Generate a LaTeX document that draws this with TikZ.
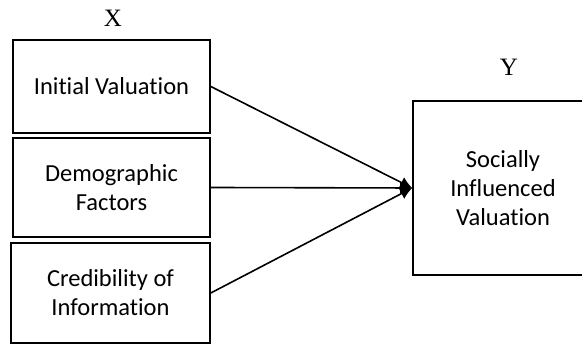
\documentclass[tikz,border=0pt]{standalone}
\usepackage{fontspec}
\setmainfont[Ligatures={NoCommon}]{Carlito}
\newfontfamily\labelfont{Liberation Serif}
\usetikzlibrary{arrows.meta}

\begin{document}
\begin{tikzpicture}[x=1pt, y=1pt,
    varbox/.style={draw, line width=1.6pt, align=center, inner sep=0pt,
      font=\fontsize{24.5}{29}\selectfont},
    varlabel/.style={font=\labelfont\fontsize{25}{28}\selectfont},
    link/.style={line width=1.6pt, -{Latex[length=12pt, width=12pt]}}]
  % Frame of the picture
  \useasboundingbox (0,0) rectangle (582,344);

  % Independent variables (X)
  \node[varlabel] (xlab) at (113,326) {X};
  \node[varbox, minimum width=197pt, minimum height=93pt] (init) at (111.5,257.5) {Initial Valuation};
  \node[varbox, minimum width=197pt, minimum height=99pt] (demo) at (111.5,156.5) {Demographic\\Factors};
  \node[varbox, minimum width=199pt, minimum height=100pt] (cred) at (110.5,51) {Credibility of\\Information};

  % Dependent variable (Y)
  \node[varlabel] (ylab) at (509,277) {Y};
  \node[varbox, minimum width=180pt, minimum height=174pt] (social) at (503,156) {Socially\\Influenced\\Valuation};

  % Arrows into Y
  \draw[link] (init.east) -- (social.west);
  \draw[link] (demo.east) -- (social.west);
  \draw[link] (cred.east) -- (social.west);

\end{tikzpicture}
\end{document}
